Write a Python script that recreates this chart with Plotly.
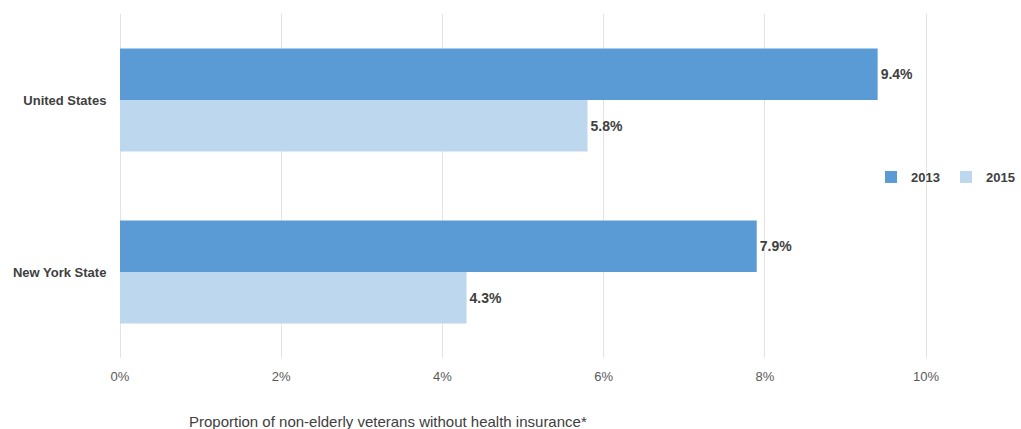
import plotly.graph_objects as go

categories = ["United States", "New York State"]
years = ["2013", "2015"]
values_2013 = [9.4, 7.9]
values_2015 = [5.8, 4.3]
colors = ["#5B9BD5", "#BDD7EE"]
x_ticks = [0, 2, 4, 6, 8, 10]
x_ticktext = ["0%", "2%", "4%", "6%", "8%", "10%"]

FONT = "Arial, Liberation Sans, sans-serif"
W, H = 1021, 429
L, T, B = 120, 14, 71
plot_w = W - L
px_per_unit = 80.6  # 10% lands at x=926
x_max = plot_w / px_per_unit

fig = go.Figure()
for name, vals, col in zip(years, [values_2013, values_2015], colors):
    fig.add_trace(go.Bar(
        y=categories, x=vals, name=f"<b>{name}</b>", orientation="h",
        marker=dict(color=col, line=dict(width=0)),
        text=[f"<b>{v:.1f}%</b>" for v in vals], textposition="outside",
        textfont=dict(family=FONT, size=14, color="#404040"),
        cliponaxis=False,
    ))

fig.update_layout(
    width=W, height=H,
    margin=dict(l=L, r=0, t=T, b=B),
    paper_bgcolor="white", plot_bgcolor="white",
    barmode="group", bargap=0.4, bargroupgap=0,
    font=dict(family=FONT, color="#595959"),
    xaxis=dict(range=[0, x_max], tickvals=x_ticks, ticktext=x_ticktext,
               showgrid=True, gridcolor="#E3E3E3", gridwidth=1,
               zeroline=True, zerolinecolor="#E3E3E3", zerolinewidth=1,
               showline=False, ticks="outside", ticklen=6, tickcolor="rgba(0,0,0,0)",
               tickfont=dict(size=13, color="#595959")),
    yaxis=dict(autorange="reversed", showgrid=False, showline=False,
               ticks="outside", ticklen=10, tickcolor="rgba(0,0,0,0)",
               tickfont=dict(size=13, color="#404040"),
               ticktext=[f"<b>{c}</b>" for c in categories], tickvals=categories),
    legend=dict(orientation="h", x=1.0, xanchor="right",
                y=(H - B - 177) / (H - T - B), yanchor="middle",
                font=dict(size=13, color="#404040"), itemwidth=30, entrywidth=30,
                tracegroupgap=0, bgcolor="rgba(0,0,0,0)"),
    showlegend=True,
    annotations=[dict(text="Proportion of non-elderly veterans without health insurance*",
                      x=(388 - L) / plot_w, y=-64 / (H - T - B), xref="paper", yref="paper",
                      xanchor="center", yanchor="middle", showarrow=False,
                      font=dict(size=15, color="#404040"))],
)
fig.write_html("out.html")
